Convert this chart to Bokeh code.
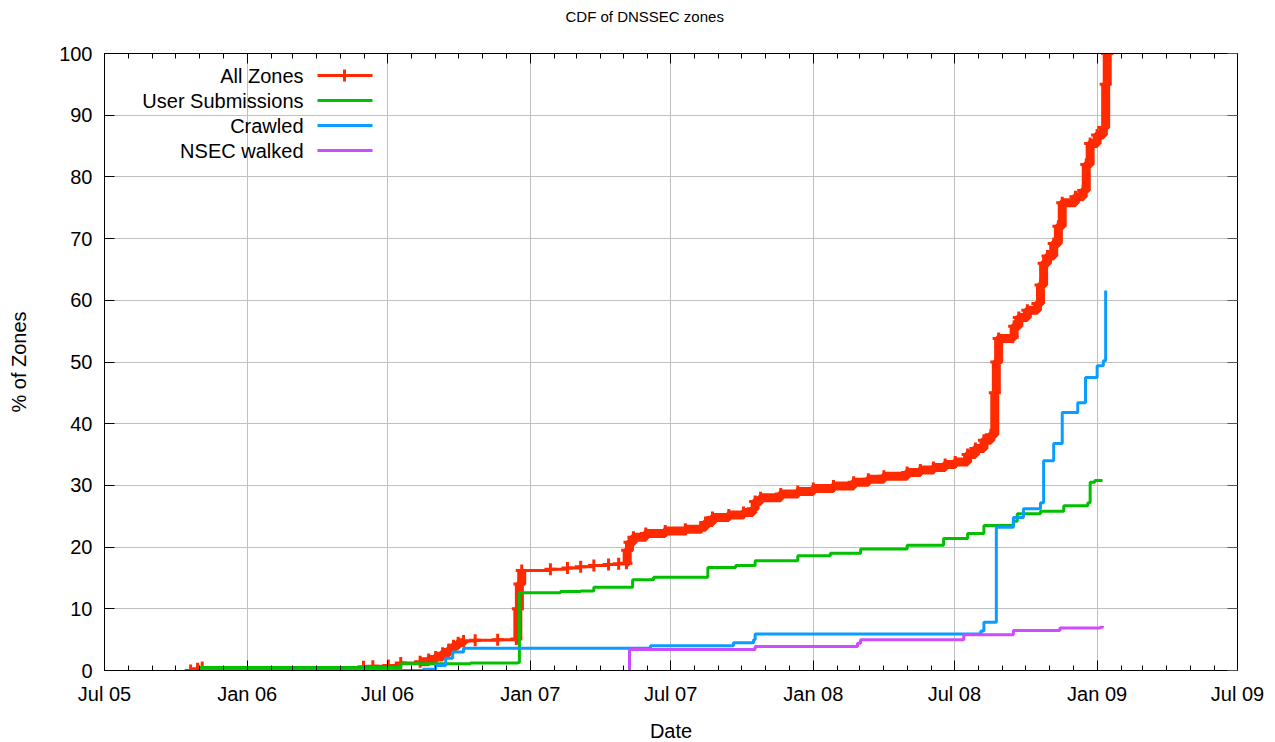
import pandas as pd
from bokeh.plotting import figure
from bokeh.models import (FixedTicker, DatetimeTickFormatter, Range1d, LinearAxis,
                          DatetimeAxis, Label, BoxAnnotation)
from bokeh.embed import file_html
from bokeh.resources import INLINE

# ---------------- data ----------------
all_zones_dates = [
    "2005-10-20", "2005-10-29", "2005-11-04", "2006-05-31", "2006-06-12", "2006-07-02",
    "2006-07-18", "2006-08-12", "2006-08-23", "2006-09-01", "2006-09-10", "2006-09-18",
    "2006-09-24", "2006-09-30", "2006-10-07", "2006-10-22", "2006-11-20", "2006-12-14",
    "2006-12-16", "2006-12-18", "2006-12-21", "2007-01-27", "2007-02-18", "2007-03-07",
    "2007-03-24", "2007-04-12", "2007-04-25", "2007-05-05", "2007-05-06", "2007-05-09",
    "2007-05-14", "2007-05-30", "2007-06-24", "2007-07-20", "2007-08-09", "2007-08-15",
    "2007-08-24", "2007-09-14", "2007-10-03", "2007-10-15", "2007-10-18", "2007-10-25",
    "2007-11-20", "2007-12-12", "2008-01-01", "2008-01-27", "2008-02-22", "2008-03-12",
    "2008-04-01", "2008-05-01", "2008-05-18", "2008-06-04", "2008-06-19", "2008-07-02",
    "2008-07-18", "2008-07-28", "2008-08-08", "2008-08-17", "2008-08-22", "2008-08-24",
    "2008-08-27", "2008-09-14", "2008-09-16", "2008-09-22", "2008-10-03", "2008-10-16",
    "2008-10-20", "2008-10-24", "2008-10-29", "2008-11-06", "2008-11-12", "2008-11-17",
    "2008-12-04", "2008-12-14", "2008-12-18", "2008-12-23", "2009-01-01", "2009-01-09",
    "2009-01-12", "2009-01-14",
]
all_zones_pct = [
    0.0, 0.3, 0.5, 0.6, 0.7, 0.8,
    1.2, 1.4, 1.8, 2.2, 2.8, 3.4,
    4.0, 4.5, 4.8, 4.9, 5.0, 5.1,
    10.0, 14.0, 16.2, 16.4, 16.6, 16.8,
    17.0, 17.2, 17.3, 17.4, 19.5, 20.8,
    21.6, 22.2, 22.6, 22.9, 23.2, 24.0,
    24.8, 25.2, 25.6, 26.2, 27.4, 28.0,
    28.6, 29.0, 29.5, 29.9, 30.5, 31.0,
    31.5, 32.1, 32.5, 32.9, 33.4, 33.8,
    35.0, 36.0, 37.3, 38.2, 45.0, 50.0,
    53.8, 54.0, 55.8, 57.2, 58.4, 59.5,
    62.5, 66.0, 67.2, 69.2, 72.0, 75.8,
    76.8, 77.8, 82.0, 85.4, 86.8, 88.0,
    95.0, 100.0,
]

user_dates = [
    "2005-11-01", "2006-07-18", "2006-10-16", "2006-12-16", "2006-12-18", "2007-02-09",
    "2007-03-07", "2007-03-24", "2007-05-13", "2007-06-09", "2007-08-18", "2007-09-23",
    "2007-10-18", "2007-12-12", "2008-01-23", "2008-03-02", "2008-05-01", "2008-06-17",
    "2008-07-18", "2008-08-08", "2008-09-15", "2008-09-20", "2008-10-20", "2008-11-19",
    "2008-12-20", "2008-12-23", "2008-12-29", "2009-01-08",
]
user_pct = [
    0.5, 1.1, 1.2, 1.3, 12.6, 12.8,
    12.9, 13.5, 14.7, 15.1, 16.7, 17.0,
    17.8, 18.6, 19.0, 19.7, 20.3, 21.4,
    22.2, 23.5, 24.2, 25.4, 25.8, 26.7,
    27.2, 30.5, 30.8, 30.8,
]

crawled_dates = [
    "2005-11-01", "2006-08-16", "2006-09-01", "2006-09-14", "2006-09-23", "2006-10-07",
    "2007-06-05", "2007-09-20", "2007-10-16", "2007-10-18", "2008-08-04", "2008-08-08",
    "2008-08-24", "2008-09-15", "2008-09-28", "2008-10-20", "2008-10-24", "2008-11-06",
    "2008-11-17", "2008-12-07", "2008-12-17", "2009-01-01", "2009-01-09", "2009-01-12",
]
crawled_pct = [
    0.0, 0.2, 0.8, 2.0, 3.0, 3.6,
    4.0, 4.5, 5.0, 5.9, 6.4, 7.8,
    23.2, 24.8, 26.2, 27.2, 34.0, 36.8,
    41.8, 43.4, 47.5, 49.4, 50.2, 61.6,
]

nsec_dates = [
    "2007-05-08", "2007-05-09", "2007-10-16", "2007-10-18", "2008-02-27", "2008-03-02",
    "2008-07-13", "2008-09-15", "2008-11-14", "2009-01-05", "2009-01-08",
]
nsec_pct = [0.0, 3.4, 3.4, 3.9, 4.4, 5.0, 5.8, 6.5, 6.9, 7.0, 7.2]

series_names = ["All Zones", "User Submissions", "Crawled", "NSEC walked"]
series_colors = ["#ff2a00", "#00c000", "#0a9cff", "#cc4cff"]

x_tick_dates = ["2005-07-01", "2006-01-01", "2006-07-01", "2007-01-01", "2007-07-01",
                "2008-01-01", "2008-07-01", "2009-01-01", "2009-07-01"]
y_ticks = [0, 10, 20, 30, 40, 50, 60, 70, 80, 90, 100]

TITLE = "CDF of DNSSEC zones"
X_LABEL = "Date"
Y_LABEL = "% of Zones"

# ---------------- figure ----------------
FONT = "Liberation Sans"
FW, FH = 1133, 617


def ms(d):
    return pd.Timestamp(d).value / 1e6


xt = [ms(d) for d in x_tick_dates]
minor = [ms(d) for d in pd.date_range(x_tick_dates[0], x_tick_dates[-1], freq="MS")]
xticker = FixedTicker(ticks=xt, minor_ticks=minor)
yticker = FixedTicker(ticks=y_ticks)

p = figure(frame_width=FW, frame_height=FH, x_axis_type="datetime",
           x_range=Range1d(xt[0], xt[-1]), y_range=Range1d(0, 100),
           output_backend="svg", toolbar_location=None,
           min_border_left=104, min_border_right=30, min_border_top=53,
           min_border_bottom=72)

# title: left aligned + offset so that it is centred on the page like the reference
p.title.text = TITLE
p.title.align = "left"
p.title.offset = 461
p.title.text_font = FONT
p.title.text_font_size = "15px"
p.title.text_font_style = "normal"
p.title.text_color = "black"

p.outline_line_color = "black"
p.outline_line_width = 1
p.background_fill_color = "white"
p.border_fill_color = "white"

for g in (p.xgrid, p.ygrid):
    g.grid_line_color = "#c0c0c0"
    g.grid_line_width = 1
p.xgrid.ticker = xticker
p.ygrid.ticker = yticker

fmt = DatetimeTickFormatter(months="%b %y", days="%b %y", years="%b %y")

xa = p.xaxis[0]
xa.ticker = xticker
xa.formatter = fmt
ya = p.yaxis[0]
ya.ticker = yticker

for ax in (xa, ya):
    ax.major_tick_in = 10
    ax.major_tick_out = 0
    ax.minor_tick_in = 5
    ax.minor_tick_out = 0
    ax.axis_line_color = "black"
    ax.major_tick_line_color = "black"
    ax.minor_tick_line_color = "black"
    ax.major_label_text_font = FONT
    ax.major_label_text_font_size = "20px"
    ax.major_label_text_color = "black"
    ax.axis_label_text_font = FONT
    ax.axis_label_text_font_size = "20px"
    ax.axis_label_text_font_style = "normal"
    ax.axis_label_text_color = "black"

xa.axis_label = X_LABEL
xa.major_label_standoff = 12
xa.axis_label_standoff = 12
ya.axis_label = Y_LABEL
ya.major_label_standoff = 12
ya.axis_label_standoff = 26

# mirrored tick marks on top and right (labels not painted)
top = DatetimeAxis(ticker=xticker, formatter=fmt, major_label_text_font_size="1px",
                   major_label_text_color=None, major_label_standoff=0,
                   major_tick_in=10, major_tick_out=0, minor_tick_in=5, minor_tick_out=0,
                   axis_line_color="black", major_tick_line_color="black",
                   minor_tick_line_color="black")
right = LinearAxis(ticker=yticker, major_label_text_font_size="1px",
                   major_label_text_color=None, major_label_standoff=0,
                   major_tick_in=10, major_tick_out=0, minor_tick_in=0, minor_tick_out=0,
                   axis_line_color="black", major_tick_line_color="#555555")
p.add_layout(top, "above")
p.add_layout(right, "right")

# invisible spacer axis: lifts the title up towards where the reference has it
spacer = DatetimeAxis(ticker=xticker, formatter=fmt, major_label_text_font_size="1px",
                      major_label_text_color=None, major_label_standoff=0,
                      major_tick_in=0, major_tick_out=24, minor_tick_in=0,
                      minor_tick_out=0, axis_line_color=None, major_tick_line_color=None,
                      minor_tick_line_color=None)
p.add_layout(spacer, "above")

# ---------------- series ----------------
red_x = pd.to_datetime(all_zones_dates)
red_y = pd.Series(all_zones_pct)

# regions where the reference's markers are so dense they form a solid band
bands = [("2006-08-12", "2006-10-07"), ("2006-12-14", "2006-12-21"),
         ("2007-05-05", "2009-01-14")]
for a, b in bands:
    m = (red_x >= pd.Timestamp(a)) & (red_x <= pd.Timestamp(b))
    p.step(red_x[m], red_y[m.tolist()], mode="after", line_color=series_colors[0],
           line_width=9)

p.step(red_x, all_zones_pct, mode="after", line_color=series_colors[0], line_width=3)
p.scatter(red_x, all_zones_pct, marker="cross", size=12, line_color=series_colors[0],
          line_width=3)

p.step(pd.to_datetime(user_dates), user_pct, mode="after", line_color=series_colors[1],
       line_width=3)
p.step(pd.to_datetime(crawled_dates), crawled_pct, mode="after",
       line_color=series_colors[2], line_width=3)
p.step(pd.to_datetime(nsec_dates), nsec_pct, mode="after", line_color=series_colors[3],
       line_width=3)

# ---------------- legend (gnuplot style: text then sample) ----------------
row_y = [FH - 22, FH - 47, FH - 72, FH - 97]
for i, (name, col) in enumerate(zip(series_names, series_colors)):
    p.add_layout(Label(x=199, y=row_y[i], x_units="screen", y_units="screen",
                       text=name, text_font=FONT, text_font_size="20px",
                       text_align="right", text_baseline="middle", text_color="black"))
    p.add_layout(BoxAnnotation(left=213, right=268, bottom=row_y[i] - 1.5,
                               top=row_y[i] + 1.5, left_units="screen",
                               right_units="screen", top_units="screen",
                               bottom_units="screen", fill_color=col, fill_alpha=1,
                               line_alpha=0))
    if i == 0:
        p.add_layout(BoxAnnotation(left=238.5, right=241.5, bottom=row_y[i] - 6,
                                   top=row_y[i] + 6, left_units="screen",
                                   right_units="screen", top_units="screen",
                                   bottom_units="screen", fill_color=col, fill_alpha=1,
                                   line_alpha=0))

open("out.html", "w").write(file_html(p, INLINE))
